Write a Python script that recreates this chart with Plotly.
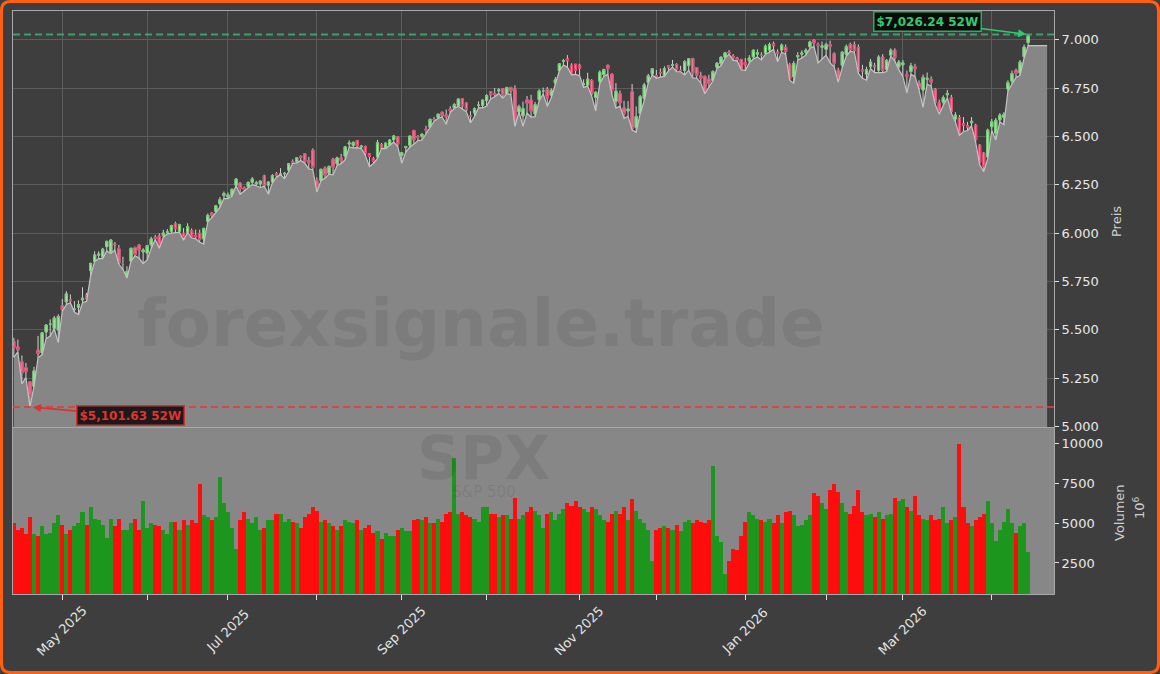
import pandas as pd
import plotly.graph_objects as go

# ---------------- data ----------------
HOLIDAYS = ["2025-04-18", "2025-05-26", "2025-06-19", "2025-07-04", "2025-09-01",
            "2025-11-27", "2025-12-25", "2026-01-01", "2026-01-19", "2026-02-16", "2026-04-03"]
DATES = [d for d in pd.bdate_range("2025-04-14", "2026-04-15") if d.strftime("%Y-%m-%d") not in HOLIDAYS]

OPEN = [5441, 5412, 5336, 5305, 5232, 5208, 5395, 5381, 5489, 5529, 5508, 5499,
        5626, 5645, 5655, 5605, 5617, 5655, 5679, 5807, 5854, 5886, 5876, 5930, 5903, 5944, 5920, 5842, 5782, 5855, 5926, 5939, 5903,
        5897, 5939, 5978, 5985, 5987, 6005, 6010, 6049, 6010, 6000, 6005, 6012, 5987, 5999, 5970, 6061, 6104, 6112, 6151, 6194,
        6187, 6192, 6247, 6259, 6235, 6240, 6263, 6255, 6255, 6296, 6248, 6264, 6308, 6304, 6306, 6326, 6368, 6370, 6397, 6410, 6376, 6429,
        6271, 6272, 6337, 6309, 6383, 6358, 6389, 6398, 6461, 6454, 6479, 6445, 6447, 6410, 6386, 6393, 6457, 6441, 6457, 6483, 6497,
        6401, 6442, 6454, 6531, 6498, 6500, 6537, 6546, 6588, 6598, 6625, 6611, 6642, 6648, 6659, 6695, 6673, 6608, 6621, 6661, 6661,
        6685, 6732, 6722, 6735, 6746, 6721, 6753, 6744, 6626, 6606, 6690, 6688, 6615, 6690, 6736, 6743, 6713, 6776, 6840, 6889, 6901, 6868, 6873,
        6868, 6767, 6765, 6789, 6701, 6785, 6820, 6868, 6822, 6680, 6722, 6648, 6631, 6732, 6546, 6620, 6697, 6779, 6822,
        6813, 6830, 6815, 6866, 6866, 6872, 6841, 6840, 6866, 6903, 6855, 6815, 6810, 6797, 6788, 6857, 6875, 6909, 6936, 6915, 6905, 6898,
        6882, 6890, 6911, 6925, 6920, 6930, 6946, 6978, 6935, 6946, 6960, 6870, 6808, 6912, 6925, 6935, 6963, 6998, 6975, 6960,
        6950, 6975, 6928, 6842, 6868, 6925, 6976, 6975, 6960, 6845, 6822, 6860, 6865, 6842, 6910, 6845, 6920, 6945, 6860,
        6870, 6820, 6835, 6860, 6775, 6740, 6795, 6795, 6743, 6673, 6677, 6715, 6700, 6590, 6598, 6565, 6555, 6570, 6558, 6455, 6414, 6394,
        6550, 6516, 6585, 6598, 6745, 6785, 6842, 6828, 6912, 6985]
HIGH = [5459, 5450, 5368, 5329, 5233, 5309, 5469, 5490, 5528, 5554, 5572, 5581,
        5659, 5700, 5683, 5649, 5653, 5720, 5691, 5845, 5906, 5906, 5924, 5959, 5969, 5954, 5939, 5878, 5829, 5924, 5930, 5944, 5922,
        5937, 5981, 5991, 5999, 6017, 6021, 6043, 6059, 6046, 6026, 6051, 6024, 6018, 6018, 6026, 6101, 6108, 6146, 6187, 6215,
        6210, 6228, 6285, 6263, 6242, 6265, 6290, 6270, 6272, 6302, 6267, 6305, 6316, 6336, 6316, 6360, 6381, 6390, 6401, 6410, 6394, 6438,
        6288, 6330, 6345, 6349, 6389, 6395, 6410, 6446, 6480, 6474, 6481, 6456, 6453, 6411, 6394, 6482, 6466, 6468, 6485, 6508, 6497,
        6416, 6450, 6502, 6533, 6507, 6513, 6555, 6592, 6600, 6616, 6627, 6639, 6656, 6672, 6695, 6697, 6674, 6630, 6650, 6681, 6689,
        6718, 6732, 6750, 6749, 6749, 6755, 6756, 6764, 6664, 6680, 6709, 6715, 6678, 6744, 6752, 6755, 6748, 6807, 6876, 6900, 6920, 6878, 6874,
        6875, 6795, 6829, 6796, 6733, 6841, 6849, 6869, 6825, 6775, 6737, 6684, 6682, 6771, 6655, 6714, 6777, 6823, 6850,
        6843, 6851, 6862, 6867, 6895, 6878, 6865, 6894, 6903, 6904, 6856, 6834, 6815, 6819, 6842, 6884, 6910, 6937, 6946, 6925, 6911, 6900,
        6905, 6920, 6950, 6950, 6935, 6975, 6985, 6990, 6950, 6980, 6975, 6880, 6890, 6935, 6945, 6955, 6995, 7002, 6985, 6990,
        6985, 6995, 6935, 6855, 6940, 6975, 6985, 6990, 6975, 6870, 6860, 6900, 6880, 6920, 6925, 6900, 6955, 6955, 6895,
        6895, 6840, 6880, 6875, 6790, 6820, 6830, 6810, 6750, 6690, 6712, 6740, 6715, 6625, 6610, 6600, 6575, 6600, 6565, 6460, 6420, 6540,
        6590, 6595, 6620, 6625, 6790, 6840, 6850, 6895, 6975, 7026.24]
LOW = [5358, 5387, 5220, 5255, 5101.63, 5208, 5357, 5371, 5455, 5468, 5506, 5434,
       5597, 5631, 5640, 5592, 5579, 5640, 5648, 5778, 5853, 5868, 5868, 5908, 5895, 5912, 5839, 5813, 5768, 5854, 5883, 5871, 5843,
       5862, 5921, 5967, 5921, 5979, 5996, 6000, 6003, 6004, 5963, 6003, 5976, 5971, 5953, 5943, 6059, 6080, 6107, 6133, 6180,
       6178, 6191, 6246, 6201, 6217, 6232, 6251, 6245, 6236, 6242, 6201, 6260, 6289, 6303, 6282, 6317, 6360, 6363, 6375, 6361, 6332, 6328,
       6212, 6271, 6283, 6305, 6301, 6350, 6359, 6380, 6445, 6441, 6442, 6437, 6401, 6344, 6360, 6386, 6438, 6437, 6455, 6470, 6447,
       6361, 6419, 6445, 6460, 6478, 6481, 6513, 6542, 6578, 6594, 6600, 6563, 6623, 6644, 6656, 6642, 6627, 6570, 6603, 6648, 6647,
       6657, 6694, 6705, 6722, 6698, 6721, 6715, 6551, 6626, 6552, 6620, 6600, 6602, 6684, 6719, 6655, 6700, 6766, 6839, 6869, 6858, 6818, 6820,
       6814, 6753, 6760, 6708, 6631, 6773, 6810, 6821, 6716, 6646, 6656, 6593, 6604, 6533, 6521, 6617, 6685, 6778, 6817,
       6800, 6806, 6810, 6839, 6858, 6835, 6834, 6818, 6841, 6802, 6801, 6776, 6720, 6754, 6787, 6851, 6865, 6905, 6925, 6893, 6890, 6844,
       6840, 6880, 6900, 6910, 6895, 6925, 6935, 6950, 6885, 6935, 6925, 6790, 6775, 6895, 6905, 6920, 6955, 6965, 6880, 6900,
       6920, 6880, 6860, 6780, 6855, 6915, 6940, 6935, 6825, 6800, 6790, 6850, 6830, 6830, 6830, 6835, 6915, 6890, 6845,
       6810, 6725, 6820, 6810, 6740, 6650, 6770, 6760, 6665, 6615, 6660, 6700, 6620, 6575, 6505, 6525, 6530, 6555, 6470, 6355, 6317, 6385,
       6530, 6481, 6575, 6560, 6735, 6770, 6805, 6815, 6905, 6969]
CLOSE = [5406, 5397, 5276, 5283, 5158, 5288, 5376, 5485, 5525, 5529, 5561, 5569,
         5604, 5686, 5650, 5607, 5631, 5664, 5660, 5844, 5887, 5892, 5917, 5958, 5964, 5940, 5845, 5842, 5802, 5922, 5889, 5912, 5912,
         5936, 5970, 5971, 5939, 6000, 6006, 6039, 6022, 6045, 5977, 6033, 5982, 5981, 5967, 6025, 6092, 6092, 6141, 6173, 6205,
         6198, 6227, 6279, 6230, 6226, 6263, 6280, 6260, 6269, 6244, 6264, 6297, 6297, 6305, 6309, 6359, 6363, 6389, 6390, 6371, 6362, 6339,
         6238, 6330, 6299, 6345, 6340, 6389, 6374, 6446, 6466, 6469, 6450, 6449, 6412, 6396, 6370, 6467, 6439, 6465, 6481, 6502, 6460,
         6416, 6448, 6502, 6482, 6495, 6512, 6532, 6588, 6584, 6615, 6606, 6600, 6631, 6664, 6693, 6657, 6637, 6605, 6644, 6661, 6688,
         6711, 6715, 6716, 6740, 6714, 6753, 6735, 6553, 6654, 6644, 6671, 6630, 6664, 6735, 6736, 6699, 6738, 6792, 6875, 6891, 6890, 6822, 6840,
         6852, 6771, 6796, 6720, 6728, 6832, 6846, 6851, 6737, 6734, 6672, 6617, 6642, 6539, 6603, 6705, 6766, 6813, 6849,
         6812, 6829, 6850, 6857, 6870, 6846, 6841, 6887, 6901, 6827, 6816, 6800, 6721, 6775, 6835, 6878, 6910, 6932, 6930, 6906, 6896, 6845,
         6870, 6905, 6945, 6932, 6918, 6966, 6975, 6968, 6928, 6972, 6938, 6797, 6877, 6918, 6931, 6945, 6988, 6982, 6970, 6968,
         6975, 6965, 6878, 6800, 6935, 6964, 6948, 6945, 6835, 6838, 6845, 6884, 6860, 6910, 6842, 6892, 6945, 6905, 6884,
         6880, 6810, 6865, 6850, 6752, 6805, 6800, 6780, 6675, 6628, 6700, 6722, 6628, 6610, 6517, 6558, 6548, 6578, 6482, 6368, 6343, 6532,
         6575, 6583, 6610, 6614, 6778, 6825, 6825, 6884, 6962, 7020]
VOLUME = [5000, 4600, 4700, 4300, 5400, 4300, 4200, 4800, 4300, 4400, 5000, 5500,
          4900, 4300, 4600, 4800, 5000, 5700, 4900, 6000, 5300, 5200,
          4900, 4100, 5300, 4800, 5300, 4600, 4600, 5000, 5300, 4600, 6400,
          4700, 5000, 4900, 4800, 4600, 4300, 5100, 5100, 4600, 5200, 4900, 5200, 5000,
          7500, 5500, 5400, 5200, 5400, 7900, 6300, 5700, 4700, 3400,
          5200, 5700, 5300, 5000, 5400, 4600, 4700, 5200, 5200, 5600, 5600, 5100, 5300, 5100, 5000, 4700, 5400, 5600, 6000,
          5800, 5100, 5200, 5000, 4800, 4600, 4800, 5200, 5100, 5000, 5200, 4600, 4700, 4900, 4400, 4500, 4000, 4400, 4200, 4200, 4600,
          4700, 4500, 4500, 5200, 5300, 5200, 5400, 5000, 5000, 5300, 5100, 5600, 5700,
          9100,
          5600, 5700, 5500, 5400, 5300, 5100, 6000, 6000, 5600, 5600, 5400, 5500, 5500, 5300, 6600,
          5300, 5500, 5700, 6000, 5800, 5500, 4700, 5600, 5700, 5200, 5600, 5900, 6300, 6100, 6400,
          6000, 5900, 5700, 6000, 5900, 5500, 5200, 5100, 5600, 5800, 5600, 6000, 5200, 6500, 5800, 5300, 5000, 4600, 2600,
          4600, 4700, 4800, 4700, 4600, 4900, 4500, 5100, 5200, 5000, 5200, 5100, 5000, 5200, 8600, 4200, 3800, 1800, 2600, 3400, 3300, 4200,
          5100, 5700, 5500, 5300, 5200, 5100, 5300, 5000, 5500, 5000, 5700, 5800, 5500, 4800, 4900, 5200, 5500, 6900, 6700, 6300,
          5900, 7100, 7500, 7000, 6300, 5700, 5600, 6100, 7100, 5700, 5500, 5600, 5400, 5700, 5300, 5500, 5600, 6600, 6400,
          6500, 6000, 5800, 6700, 5500, 5300, 5200, 5500, 5200, 5300, 6000, 5000, 5200, 5400, 10000, 6000, 5000, 4800, 5200, 5400, 5600, 6400,
          5000, 3900, 4600, 5100, 5900, 5000, 4400, 4800, 5000, 3200]

HIGH_52W = 7026.24
LOW_52W = 5101.63
LOW_52W_IDX = 4
FILL_END_IDX = 255.7          # where the shaded low-area ends on the right
PRICE_TICKS = [5000, 5250, 5500, 5750, 6000, 6250, 6500, 6750, 7000]
VOL_TICKS = [2500, 5000, 7500, 10000]
TITLE_SYMBOL = "SPX"
TITLE_NAME = "S&P 500"
WATERMARK = "forexsignale.trade"

n = len(DATES)
for arr in (OPEN, HIGH, LOW, CLOSE, VOLUME):
    assert len(arr) == n, (len(arr), n)
X = list(range(n))

# month ticks (every month gets a tick, every second month a label)
tickvals, ticklabels = [], []
k = 0
for i in range(1, n):
    if DATES[i].month != DATES[i - 1].month:
        tickvals.append(i)
        ticklabels.append(DATES[i].strftime("%b %Y") if k % 2 == 0 else "")
        k += 1

# ---------------- style ----------------
BG = "#3e3e3e"
PANEL_GRAY = "#878787"
GRID = "#5c5c5c"
AXLINE = "#a8a8a8"
TXT = "#e8e8e8"
FONT = "DejaVu Sans"
W, H = 1160, 674
ML, MR, MT, MB = 13, 106, 11, 80
PW, PH = W - ML - MR, H - MT - MB


def px(xp):
    return (xp - ML) / PW


def py(yp):
    return (H - MB - yp) / PH


fig = go.Figure()

# shaded area under the lows
fig.add_trace(go.Scatter(
    x=X + [FILL_END_IDX], y=LOW + [LOW[-1]], mode="lines", fill="tozeroy",
    fillcolor="#868686", line=dict(color="#c4c4c4", width=1.2),
    xaxis="x2", yaxis="y2", hoverinfo="skip", showlegend=False))

# wicks (light gray)
fig.add_trace(go.Candlestick(
    x=X, open=OPEN, high=HIGH, low=LOW, close=CLOSE,
    increasing=dict(line=dict(color="#d2d2d2", width=1), fillcolor="rgba(0,0,0,0)"),
    decreasing=dict(line=dict(color="#d2d2d2", width=1), fillcolor="rgba(0,0,0,0)"),
    xaxis="x2", yaxis="y2", hoverinfo="skip", showlegend=False))

# bodies (coloured)
body_top = [max(o, c) for o, c in zip(OPEN, CLOSE)]
body_bot = [min(o, c) for o, c in zip(OPEN, CLOSE)]
fig.add_trace(go.Candlestick(
    x=X, open=OPEN, high=body_top, low=body_bot, close=CLOSE,
    increasing=dict(line=dict(color="#6ccf6c", width=1), fillcolor="#a6eba6"),
    decreasing=dict(line=dict(color="#e8416b", width=1), fillcolor="#f3809d"),
    xaxis="x2", yaxis="y2", hoverinfo="skip", showlegend=False))

# volume
vol_colors = ["#1c961c" if c >= o else "#ff0d0d" for o, c in zip(OPEN, CLOSE)]
fig.add_trace(go.Bar(
    x=X, y=VOLUME, marker=dict(color=vol_colors, line=dict(width=0)), width=1.0,
    xaxis="x", yaxis="y", hoverinfo="skip", showlegend=False))

xr = [-0.2, 257.4]
fig.update_layout(
    width=W, height=H,
    margin=dict(l=ML, r=MR, t=MT, b=MB, pad=0),
    paper_bgcolor=BG, plot_bgcolor=BG,
    font=dict(family=FONT, color=TXT, size=13),
    separators=",.",
    bargap=0, boxgap=0.25,
    showlegend=False,
    xaxis=dict(domain=[0, 1], anchor="y", range=xr, tickmode="array", tickvals=tickvals,
               showticklabels=False, ticks="outside", ticklen=5, tickcolor="#e0e0e0", tickwidth=1,
               showgrid=False, zeroline=False,
               showline=True, linecolor=AXLINE, mirror=True, rangeslider=dict(visible=False)),
    xaxis2=dict(domain=[0, 1], anchor="y2", matches="x", range=xr, tickmode="array", tickvals=tickvals,
                showticklabels=False, ticks="", showgrid=True, gridcolor=GRID, gridwidth=1, zeroline=False,
                showline=True, linecolor=AXLINE, mirror=True, rangeslider=dict(visible=False)),
    yaxis=dict(domain=[0, py(428)], anchor="x", side="right", range=[546, 11000], tickmode="array",
               tickvals=VOL_TICKS, tickformat="d", ticks="outside", ticklen=4, tickcolor="#e0e0e0",
               tickfont=dict(size=13, color=TXT), showgrid=False, zeroline=False,
               showline=True, linecolor=AXLINE, mirror=True),
    yaxis2=dict(domain=[py(427), 1], anchor="x2", side="right", range=[4998, 7148], tickmode="array",
                tickvals=PRICE_TICKS, tickformat=",d", ticks="outside", ticklen=4, tickcolor="#e0e0e0",
                tickfont=dict(size=13, color=TXT), showgrid=True, gridcolor=GRID, gridwidth=1, zeroline=False,
                showline=True, linecolor=AXLINE, mirror=True),
)

shapes = []
# gray volume panel background
shapes.append(dict(type="rect", xref="x domain", yref="y domain", x0=0, x1=1, y0=0, y1=1,
                   fillcolor=PANEL_GRAY, line=dict(width=0), layer="below"))
# 52W high / low dashed lines
shapes.append(dict(type="line", xref="x2 domain", yref="y2", x0=0, x1=1, y0=HIGH_52W, y1=HIGH_52W,
                   line=dict(color="rgba(60,179,113,0.85)", width=2, dash="7px,4px"), layer="above"))
shapes.append(dict(type="line", xref="x2 domain", yref="y2", x0=0, x1=1, y0=LOW_52W, y1=LOW_52W,
                   line=dict(color="rgba(225,60,60,0.85)", width=2, dash="7px,4px"), layer="above"))
# orange rounded frame around the whole figure
L_, R_, T_, B_, r = 1.5, W - 1.5, 1.5, H - 1.5, 9
path = (f"M {px(L_ + r)},{py(T_)} L {px(R_ - r)},{py(T_)} Q {px(R_)},{py(T_)} {px(R_)},{py(T_ + r)} "
        f"L {px(R_)},{py(B_ - r)} Q {px(R_)},{py(B_)} {px(R_ - r)},{py(B_)} "
        f"L {px(L_ + r)},{py(B_)} Q {px(L_)},{py(B_)} {px(L_)},{py(B_ - r)} "
        f"L {px(L_)},{py(T_ + r)} Q {px(L_)},{py(T_)} {px(L_ + r)},{py(T_)} Z")
shapes.append(dict(type="path", xref="paper", yref="paper", path=path,
                   line=dict(color="#ff5f0f", width=3), fillcolor="rgba(0,0,0,0)", layer="above"))
fig.update_layout(shapes=shapes)

ann = []
# rotated month labels, centred under their ticks
for tv, tl in zip(tickvals, ticklabels):
    if tl:
        ann.append(dict(xref="x", yref="paper", x=tv, y=py(631), text=tl, showarrow=False, textangle=-45,
                        font=dict(family=FONT, size=13, color="#e4e4e4"), xanchor="center", yanchor="middle"))
# watermarks
ann.append(dict(xref="paper", yref="paper", x=px(481), y=py(324), text=f"<b>{WATERMARK}</b>", showarrow=False,
                font=dict(family=FONT, size=66, color="rgba(0,0,0,0.075)"), xanchor="center", yanchor="middle"))
ann.append(dict(xref="paper", yref="paper", x=px(483), y=py(458), text=f"<b>{TITLE_SYMBOL}</b>", showarrow=False,
                font=dict(family=FONT, size=60, color="rgba(0,0,0,0.075)"), xanchor="center", yanchor="middle"))
ann.append(dict(xref="paper", yref="paper", x=px(484), y=py(492), text=TITLE_NAME, showarrow=False,
                font=dict(family=FONT, size=15, color="rgba(0,0,0,0.09)"), xanchor="center", yanchor="middle"))
# axis titles
ann.append(dict(xref="paper", yref="paper", x=px(1116), y=py(222), text="Preis", showarrow=False, textangle=-90,
                font=dict(family=FONT, size=13, color="#d0d0d0"), xanchor="center", yanchor="middle"))
ann.append(dict(xref="paper", yref="paper", x=px(1119), y=py(513), text="Volumen", showarrow=False, textangle=-90,
                font=dict(family=FONT, size=13, color="#d0d0d0"), xanchor="center", yanchor="middle"))
ann.append(dict(xref="paper", yref="paper", x=px(1139), y=py(508), text="10<sup>6</sup>", showarrow=False, textangle=-90,
                font=dict(family=FONT, size=13, color="#d0d0d0"), xanchor="center", yanchor="middle"))
# 52W labels
ann.append(dict(xref="x2", yref="y2", x=n - 1, y=HIGH_52W, ax=-101, ay=-13, axref="pixel", ayref="pixel",
                text=f"<b>${HIGH_52W:,.2f} 52W</b>", showarrow=True, arrowhead=2, arrowsize=1, arrowwidth=1.6,
                arrowcolor="#2ecc71", standoff=2,
                font=dict(family=FONT, size=12, color="#2ecc71"), bgcolor="#0b0b0b", bordercolor="#27ae60",
                borderwidth=1.5, borderpad=2))
ann.append(dict(xref="x2", yref="y2", x=LOW_52W_IDX, y=LOW_52W, ax=101, ay=9, axref="pixel", ayref="pixel",
                text=f"<b>${LOW_52W:,.2f} 52W</b>", showarrow=True, arrowhead=2, arrowsize=1, arrowwidth=1.6,
                arrowcolor="#e03030", standoff=3,
                font=dict(family=FONT, size=12, color="#e23232"), bgcolor="#1a1a1a", bordercolor="#d03030",
                borderwidth=1.5, borderpad=2))
fig.update_layout(annotations=ann)

fig.write_html("out.html", config={"displayModeBar": False},
               post_script="document.body.style.margin='0';document.body.style.overflow='hidden';")
